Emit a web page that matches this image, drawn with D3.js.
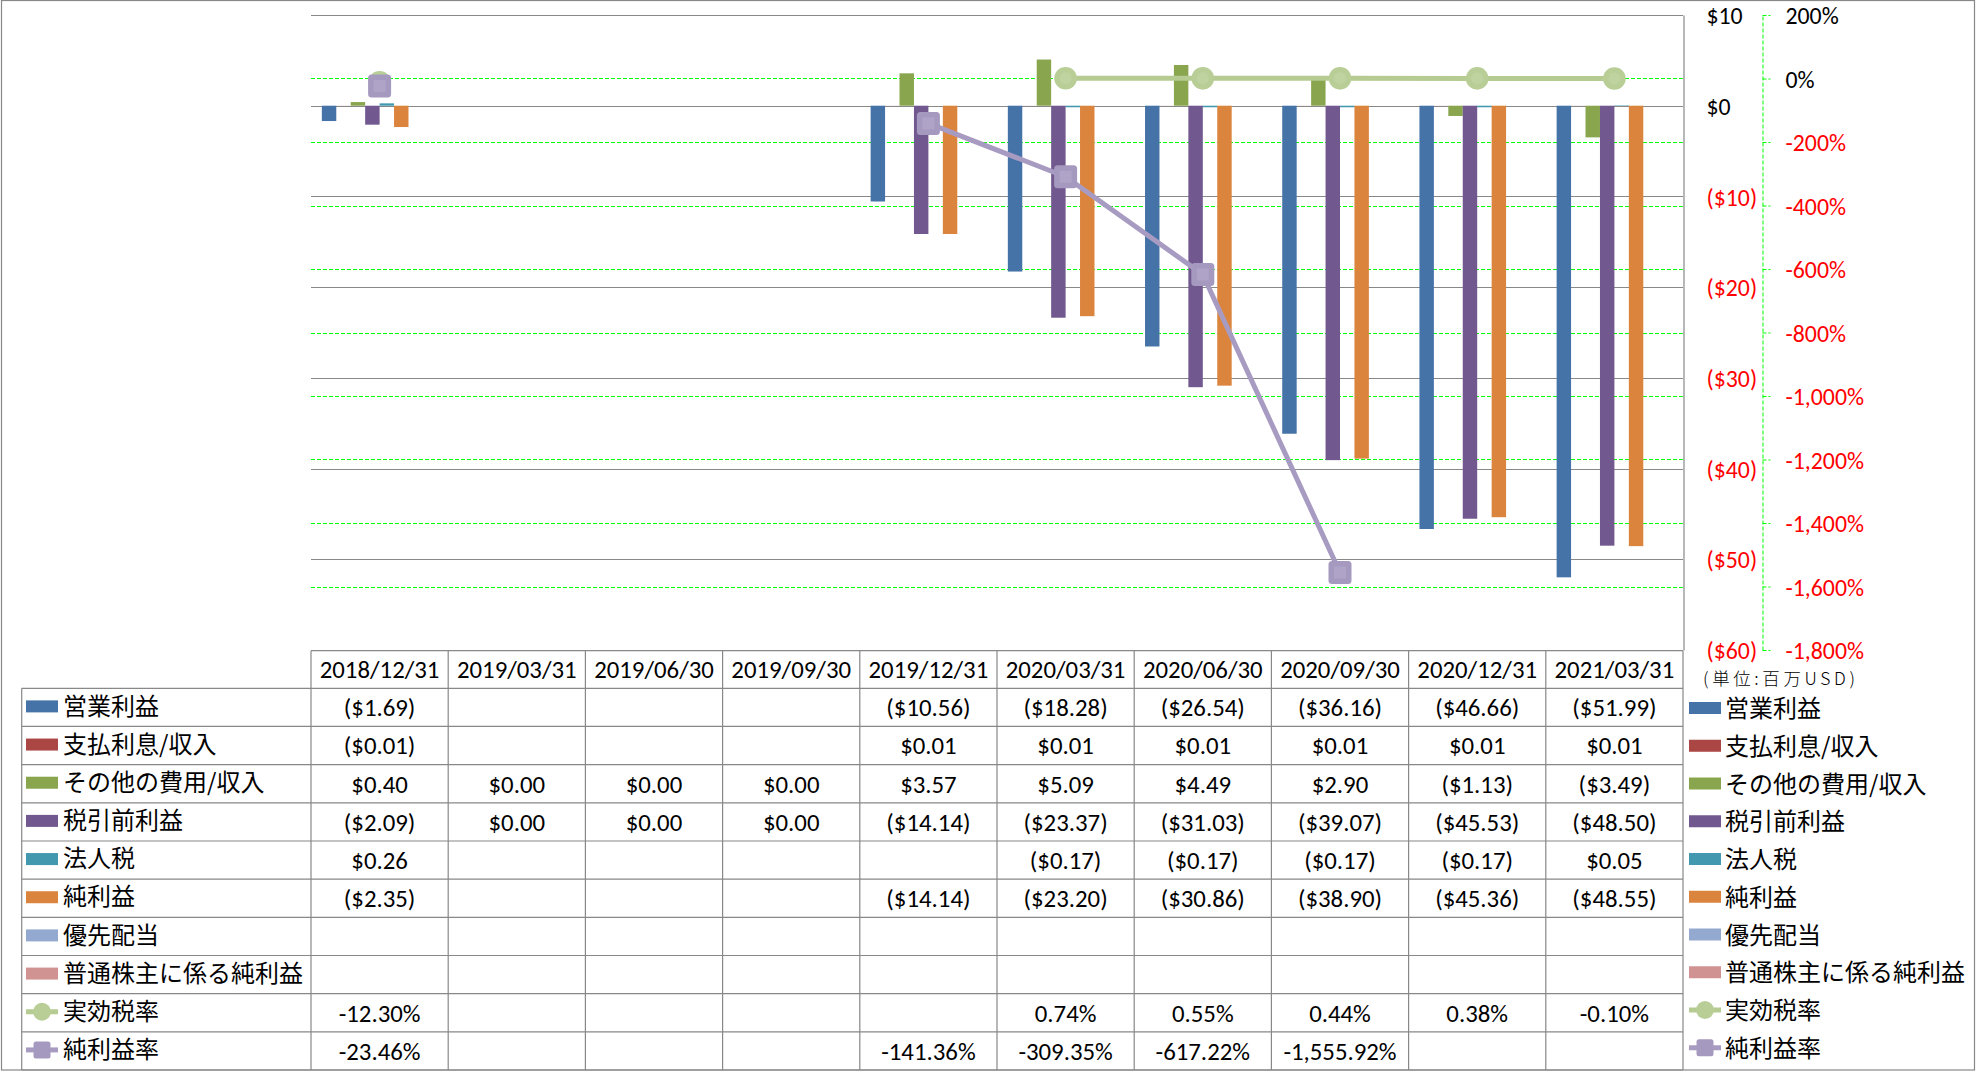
<!DOCTYPE html>
<html><head><meta charset="utf-8">
<script src="https://cdn.jsdelivr.net/npm/d3@7"></script>
<style>
html,body{margin:0;padding:0;background:#fff;}
svg{display:block;}
</style></head><body>
<svg id="chart" width="1977" height="1071"></svg>
<script>
// ---------- data ----------
const categories = ["2018/12/31","2019/03/31","2019/06/30","2019/09/30","2019/12/31","2020/03/31","2020/06/30","2020/09/30","2020/12/31","2021/03/31"];
const barSeriesNames = ["営業利益","支払利息/収入","その他の費用/収入","税引前利益","法人税","純利益","優先配当","普通株主に係る純利益"];
const lineSeriesNames = ["実効税率","純利益率"];
const operatingIncome = [-1.69, null, null, null, -10.56, -18.28, -26.54, -36.16, -46.66, -51.99];
const interestExpense = [-0.01, null, null, null, 0.01, 0.01, 0.01, 0.01, 0.01, 0.01];
const otherIncome     = [0.40, 0.00, 0.00, 0.00, 3.57, 5.09, 4.49, 2.90, -1.13, -3.49];
const preTaxIncome    = [-2.09, 0.00, 0.00, 0.00, -14.14, -23.37, -31.03, -39.07, -45.53, -48.50];
const incomeTax       = [0.26, null, null, null, null, -0.17, -0.17, -0.17, -0.17, 0.05];
const netIncome       = [-2.35, null, null, null, -14.14, -23.20, -30.86, -38.90, -45.36, -48.55];
const preferredDiv    = [null, null, null, null, null, null, null, null, null, null];
const netIncomeCommon = [null, null, null, null, null, null, null, null, null, null];
const effectiveTaxRate = [-12.30, null, null, null, null, 0.74, 0.55, 0.44, 0.38, -0.10];
const netMargin        = [-23.46, null, null, null, -141.36, -309.35, -617.22, -1555.92, null, null];
const leftTicks  = [10, 0, -10, -20, -30, -40, -50, -60];
const rightTicks = [200, 0, -200, -400, -600, -800, -1000, -1200, -1400, -1600, -1800];
const unitLabel = "(単位:百万USD)";

const barSeries = [operatingIncome, interestExpense, otherIncome, preTaxIncome, incomeTax, netIncome, preferredDiv, netIncomeCommon];
const lineSeries = [effectiveTaxRate, netMargin];
const barColors = ["#4572A7","#AA4643","#89A54E","#71588F","#4198AF","#DB843D","#93A9CF","#D19392"];
const lineColors = ["#B5CB91","#A89BC2"];
const markerFill = ["#B9CE97","#A699BF"];
const markerInner = ["#BED3A0","#AFA4C8"];

// ---------- formats ----------
const loc = d3.formatLocale({decimal:".", thousands:",", grouping:[3], currency:["$",""], minus:"-"});
const f2 = loc.format(",.2f");
const f0 = loc.format(",.0f");
const fmtCur = v => v < 0 ? "($" + f2(-v) + ")" : "$" + f2(v);
const fmtPct = v => f2(v) + "%";
const fmtAxisCur = v => v < 0 ? "($" + f0(-v) + ")" : "$" + f0(v);
const fmtAxisPct = v => f0(v) + "%";

const NUM_FONT = "Carlito, Lato, 'Liberation Sans', sans-serif";
const JP_FONT = "'Noto Sans CJK JP', 'Noto Sans', sans-serif";
const GRID = "#888888";
const TABLE_FS = 24.8, AXIS_FS = 23.8;

const svg = d3.select("#chart");

// outer border
svg.append("rect").attr("x",1.5).attr("y",0.5).attr("width",1973).attr("height",1069.5)
  .attr("fill","none").attr("stroke",GRID).attr("stroke-width",1.2);

// ---------- scales ----------
const plotL = 311, plotR = 1683, plotT = 15, plotB = 650;
const x = d3.scaleBand().domain(categories).range([plotL, plotR]).padding(0);
const slot = x.bandwidth() / 9.5;
const xSub = d3.scaleBand().domain(d3.range(barSeries.length)).range([0.75*slot, x.bandwidth() - 0.75*slot]).padding(0);
const yL = d3.scaleLinear().domain([-60, 10]).range([plotB, plotT]);
const yR = d3.scaleLinear().domain([-1800, 200]).range([plotB, plotT]);

// ---------- gridlines ----------
svg.append("g").selectAll("line").data(rightTicks).join("line")
  .attr("x1", plotL).attr("x2", plotR)
  .attr("y1", d => Math.round(yR(d)) + 0.5).attr("y2", d => Math.round(yR(d)) + 0.5)
  .attr("stroke", "#00FF00").attr("stroke-width", 1).attr("stroke-dasharray", "4,2");
svg.append("g").selectAll("line").data(leftTicks).join("line")
  .attr("x1", plotL).attr("x2", plotR)
  .attr("y1", d => Math.round(yL(d)) + 0.5).attr("y2", d => Math.round(yL(d)) + 0.5)
  .attr("stroke", GRID).attr("stroke-width", 1.2);

// ---------- bars ----------
const barG = svg.append("g");
barSeries.forEach((vals, i) => {
  barG.append("g").selectAll("rect")
    .data(vals.map((v, j) => ({v, c: categories[j]})).filter(d => d.v !== null))
    .join("rect")
    .attr("x", d => x(d.c) + xSub(i))
    .attr("width", xSub.bandwidth())
    .attr("y", d => yL(Math.max(0, d.v)))
    .attr("height", d => Math.abs(yL(d.v) - yL(0)))
    .attr("fill", barColors[i]);
});

// ---------- lines ----------
const cx = c => x(c) + x.bandwidth() / 2;
lineSeries.forEach((vals, i) => {
  const pts = vals.map((v, j) => ({v, c: categories[j]}));
  const line = d3.line().defined(d => d.v !== null).x(d => cx(d.c)).y(d => yR(d.v));
  svg.append("path").datum(pts).attr("d", line)
    .attr("fill", "none").attr("stroke", lineColors[i]).attr("stroke-width", 5)
    .attr("stroke-linejoin", "round");
  const g = svg.append("g");
  const ptsD = pts.filter(d => d.v !== null);
  if (i === 0) {
    g.selectAll("circle.o").data(ptsD).join("circle").attr("class","o")
      .attr("cx", d => cx(d.c)).attr("cy", d => yR(d.v)).attr("r", 11.3).attr("fill", markerFill[i]);
    g.selectAll("circle.i").data(ptsD).join("circle").attr("class","i")
      .attr("cx", d => cx(d.c)).attr("cy", d => yR(d.v)).attr("r", 6).attr("fill", markerInner[i]);
  } else {
    g.selectAll("rect.o").data(ptsD).join("rect").attr("class","o")
      .attr("x", d => cx(d.c) - 11.5).attr("y", d => yR(d.v) - 11.5)
      .attr("width", 23).attr("height", 23).attr("rx", 3.5).attr("fill", markerFill[i]);
    g.selectAll("rect.i").data(ptsD).join("rect").attr("class","i")
      .attr("x", d => cx(d.c) - 6).attr("y", d => yR(d.v) - 6)
      .attr("width", 12).attr("height", 12).attr("fill", markerInner[i]);
  }
});

// ---------- axes ----------
const axL = svg.append("g").attr("transform", `translate(${plotR + 0.5},0)`)
  .call(d3.axisRight(yL).tickValues(leftTicks).tickSizeInner(0).tickSizeOuter(0).tickPadding(23).tickFormat(fmtAxisCur));
axL.select(".domain").attr("stroke", GRID).attr("stroke-width", 1.2);
axL.selectAll("text").attr("font-family", NUM_FONT).attr("font-size", AXIS_FS)
  .attr("fill", d => d < 0 ? "#FF0000" : "#000").attr("dy", "0.36em");

const axR = svg.append("g").attr("transform", `translate(1762.5,0)`)
  .call(d3.axisRight(yR).tickValues(rightTicks).tickSizeInner(8).tickSizeOuter(0).tickPadding(15).tickFormat(fmtAxisPct));
axR.select(".domain").attr("stroke", "#00FF00").attr("stroke-dasharray", "4,2");
axR.selectAll(".tick line").attr("stroke", "#00FF00").attr("stroke-dasharray", "4,2");
axR.selectAll("text").attr("font-family", NUM_FONT).attr("font-size", AXIS_FS)
  .attr("fill", d => d < 0 ? "#FF0000" : "#000").attr("dy", "0.36em");

svg.append("text").attr("x", 1703).attr("y", 679).attr("dy", "0.36em")
  .attr("font-family", JP_FONT).attr("font-size", 17.5).attr("font-weight", 300)
  .attr("textLength", 152).attr("lengthAdjust", "spacing")
  .text(unitLabel);

// ---------- data table ----------
const headT = 650.7, rowT = 688.3, rowH = 38.17, tabL = 21.7;
const nRows = barSeries.length + lineSeries.length;
const tabB = rowT + nRows * rowH;
const tg = svg.append("g");
tg.append("line").attr("x1", plotL).attr("x2", plotR).attr("y1", headT).attr("y2", headT).attr("stroke", GRID).attr("stroke-width", 1.2);
tg.selectAll("line.row").data(d3.range(nRows + 1)).join("line").attr("class","row")
  .attr("x1", tabL).attr("x2", plotR)
  .attr("y1", i => rowT + i * rowH).attr("y2", i => rowT + i * rowH)
  .attr("stroke", GRID).attr("stroke-width", 1.2);
tg.selectAll("line.col").data(d3.range(categories.length + 1)).join("line").attr("class","col")
  .attr("x1", i => plotL + i * x.bandwidth()).attr("x2", i => plotL + i * x.bandwidth())
  .attr("y1", headT).attr("y2", tabB).attr("stroke", GRID).attr("stroke-width", 1.2);
tg.append("line").attr("x1", tabL).attr("x2", tabL).attr("y1", rowT).attr("y2", tabB).attr("stroke", GRID).attr("stroke-width", 1.2);
tg.selectAll("text.h").data(categories).join("text").attr("class","h")
  .attr("x", d => cx(d)).attr("y", (headT + rowT) / 2).attr("dy", "0.36em")
  .attr("text-anchor", "middle").attr("font-family", NUM_FONT).attr("font-size", TABLE_FS).text(d => d);
const allSeries = barSeries.concat(lineSeries);
allSeries.forEach((vals, r) => {
  const fmt = r < barSeries.length ? fmtCur : fmtPct;
  tg.append("g").selectAll("text")
    .data(vals.map((v, j) => ({v, c: categories[j]})).filter(d => d.v !== null))
    .join("text")
    .attr("x", d => cx(d.c)).attr("y", rowT + r * rowH + rowH / 2).attr("dy", "0.36em")
    .attr("text-anchor", "middle").attr("font-family", NUM_FONT).attr("font-size", TABLE_FS)
    .text(d => fmt(d.v));
});

// ---------- legend keys (left in table, and right) ----------
const allNames = barSeriesNames.concat(lineSeriesNames);
function drawKey(g, r, kx, cy) {
  if (r < barSeries.length) {
    g.append("rect").attr("x", kx).attr("y", cy - 6).attr("width", 32).attr("height", 12).attr("fill", barColors[r]);
  } else {
    const li = r - barSeries.length;
    g.append("line").attr("x1", kx).attr("x2", kx + 32).attr("y1", cy).attr("y2", cy)
      .attr("stroke", lineColors[li]).attr("stroke-width", 5);
    if (li === 0) {
      g.append("circle").attr("cx", kx + 16).attr("cy", cy).attr("r", 9).attr("fill", markerFill[li]);
    } else {
      g.append("rect").attr("x", kx + 7.5).attr("y", cy - 8.5).attr("width", 17).attr("height", 17).attr("rx", 2.5).attr("fill", markerFill[li]);
    }
  }
}
const lg = svg.append("g");
allNames.forEach((name, r) => {
  const cy = rowT + r * rowH + rowH / 2 - 1;
  drawKey(lg, r, 26, cy);
  lg.append("text").attr("x", 63).attr("y", cy - 1).attr("dy", "0.38em")
    .attr("font-family", JP_FONT).attr("font-size", 24).text(name);
});
const rg = svg.append("g");
allNames.forEach((name, r) => {
  const cy = 708 + r * 37.75;
  drawKey(rg, r, 1689, cy);
  rg.append("text").attr("x", 1725).attr("y", cy).attr("dy", "0.38em")
    .attr("font-family", JP_FONT).attr("font-size", 24).text(name);
});
</script>
</body></html>
